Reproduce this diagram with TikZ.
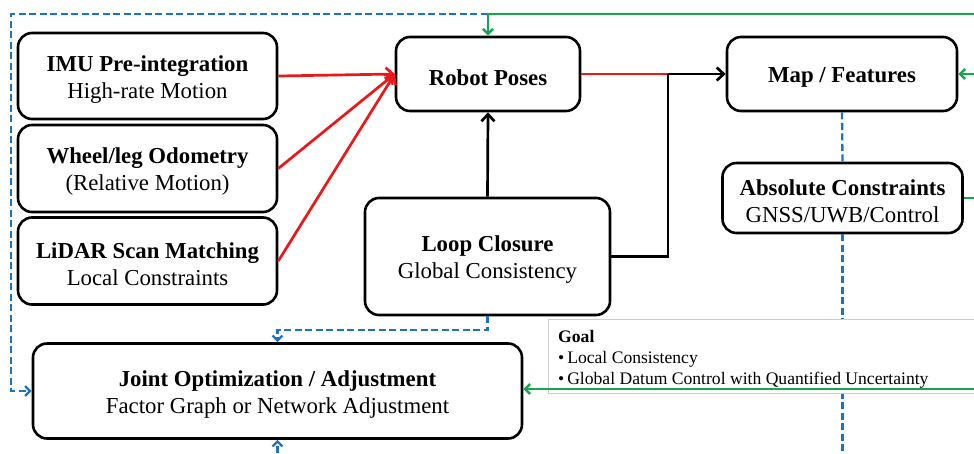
\documentclass[tikz,border=0pt]{standalone}
\usepackage{fontspec}
\setmainfont{Liberation Serif}
\usetikzlibrary{arrows.meta}
\definecolor{linkred}{RGB}{236,24,24}
\definecolor{linkgreen}{RGB}{22,166,78}
\definecolor{linkblue}{RGB}{30,115,190}
\definecolor{goalgray}{RGB}{205,205,205}
\newcommand\boxstrut{\rule{0pt}{22.6pt}}
\begin{document}
\begin{tikzpicture}[x=1pt,y=-1pt,
  box/.style={draw=black, line width=2.6pt, rounded corners=14pt, fill=white,
    align=center, inner sep=0pt, font=\fontsize{22.8}{27}\selectfont},
  bigtip/.style={-{Straight Barb[length=7pt,width=13pt]}},
  smalltip/.style={-{Straight Barb[length=5pt,width=10pt]}},
  redline/.style={draw=linkred, line width=2.7pt},
  blackline/.style={draw=black, line width=2.7pt},
  greenline/.style={draw=linkgreen, line width=2.5pt},
  bluedash/.style={draw=linkblue, line width=2.3pt, dash pattern=on 7pt off 3.5pt},
  goaltext/.style={anchor=base west, inner sep=0pt, font=\fontsize{17.6}{21}\selectfont}
]
\useasboundingbox (0,0) rectangle (974,453);

% boxes
\node[box, minimum width=259pt, minimum height=86pt] (imu) at (147.5,76) {\boxstrut\textbf{IMU Pre-integration}\\High-rate Motion};
\node[box, minimum width=259pt, minimum height=87pt] (wheel) at (147.5,168.5) {\boxstrut\textbf{Wheel/leg Odometry}\\(Relative Motion)};
\node[box, minimum width=259pt, minimum height=87pt] (lidar) at (147.5,261) {\boxstrut\textbf{LiDAR Scan Matching}\\Local Constraints};
\node[box, minimum width=184pt, minimum height=74pt] (poses) at (488,74) {\boxstrut\textbf{Robot Poses}};
\node[box, minimum width=230pt, minimum height=74pt] (map) at (842,74) {\boxstrut\textbf{Map / Features}};
\node[box, minimum width=240pt, minimum height=70pt] (abs) at (842.5,198) {\boxstrut\textbf{Absolute Constraints}\\GNSS/UWB/Control};
\node[box, minimum width=245pt, minimum height=117pt] (loop) at (487.5,256.5) {\boxstrut\textbf{Loop Closure}\\Global Consistency};
\node[box, minimum width=489pt, minimum height=95pt] (joint) at (277.5,391) {\boxstrut\textbf{Joint Optimization / Adjustment}\\Factor Graph or Network Adjustment};

% free ends
\coordinate (gtop) at (974,14);
\coordinate (btop) at (487.5,14);
\coordinate (bcorner) at (11,14);
\coordinate (junc) at (668,74);
\coordinate (gmap) at (974,74);
\coordinate (gabs) at (974,198);
\coordinate (gjoint) at (974,389);
\coordinate (bbot) at (277.5,453);
\coordinate (babs) at (842.5,453);

% red inputs
\draw[redline, bigtip] (imu.east) -- (poses.west);
\draw[redline, bigtip] (wheel.east) -- (poses.west);
\draw[redline, bigtip] (lidar.east) -- (poses.west);
\draw[redline] (poses.east) -- (junc);

% black
\draw[blackline, bigtip] (loop.north) -- (poses.south);
\draw[blackline] (loop.east) -| (junc);
\draw[blackline, bigtip] (junc) -- (map.west);

% blue dashed
\draw[bluedash, smalltip] (btop) -- (bcorner) |- (joint.west);
\draw[bluedash, smalltip] (loop.south) -- ++(0,13.5) -| (joint.north);
\draw[bluedash, smalltip] (bbot) -- (joint.south);
\draw[bluedash] (map.south) -- (abs.north);
\draw[bluedash] (abs.south) -- (babs);

% goal box
\node[draw=goalgray, line width=1pt, fill=white, inner sep=0pt, anchor=north west,
      minimum width=440pt, minimum height=74pt] (goalbox) at (548,319) {};
\node[goaltext] (goalA) at (558,342) {\textbf{Goal}};
\node[goaltext] (goalB) at (558,363) {•\,Local Consistency};
\node[goaltext] (goalC) at (558,384) {•\,Global Datum Control with Quantified Uncertainty};

% green
\draw[greenline, smalltip] (gtop) -| (poses.north);
\draw[greenline, smalltip] (gmap) -- (map.east);
\draw[greenline] (abs.east) -- (gabs);
\draw[greenline, smalltip] (gjoint) -- (gjoint -| joint.east);
\end{tikzpicture}
\end{document}
